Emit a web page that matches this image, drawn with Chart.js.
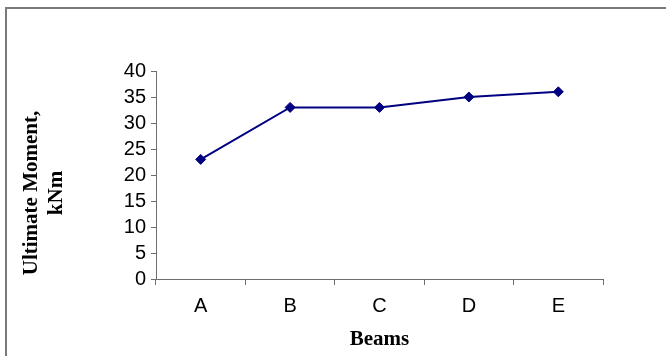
<!DOCTYPE html>
<html>
<head>
<meta charset="utf-8">
<script src="https://cdn.jsdelivr.net/npm/chart.js@4/dist/chart.umd.min.js"></script>
<style>
  html, body { margin: 0; padding: 0; background: #fff; overflow: hidden; }
  canvas { display: block; }
</style>
</head>
<body>
<canvas id="c" width="666" height="356"></canvas>
<script>
const categories = ['A', 'B', 'C', 'D', 'E'];
const momentValues = [23, 33, 33, 35, 36];
const yTitleLines = ['Ultimate Moment,', 'kNm'];
const xTitle = 'Beams';

const framePlugin = {
  id: 'frame',
  beforeDraw(chart) {
    const ctx = chart.ctx;
    ctx.save();
    ctx.fillStyle = '#7a7a7a';
    ctx.fillRect(5, 7, chart.width - 5, 2);
    ctx.fillRect(5, 7, 2, chart.height - 7);
    ctx.restore();
  }
};

const yTitlePlugin = {
  id: 'yTitle',
  afterDraw(chart) {
    const ctx = chart.ctx;
    const area = chart.chartArea;
    ctx.save();
    ctx.translate(32, area.bottom - 86);
    ctx.rotate(-Math.PI / 2);
    ctx.font = 'bold 21px "Liberation Serif", "Times New Roman", serif';
    ctx.fillStyle = '#000';
    ctx.textAlign = 'center';
    ctx.textBaseline = 'middle';
    ctx.fillText(yTitleLines[0], 0, 0);
    ctx.fillText(yTitleLines[1], 0, 25);
    ctx.restore();
  }
};

new Chart(document.getElementById('c'), {
  type: 'line',
  data: {
    labels: categories,
    datasets: [{
      data: momentValues,
      borderColor: '#000080',
      backgroundColor: '#000080',
      borderWidth: 2,
      pointStyle: 'rectRot',
      pointRadius: 5,
      pointBorderWidth: 1,
      tension: 0,
      fill: false
    }]
  },
  options: {
    responsive: false,
    animation: false,
    devicePixelRatio: 1,
    layout: { padding: { top: 71, right: 63, left: 0, bottom: 0 } },
    plugins: { legend: { display: false }, tooltip: { enabled: false } },
    scales: {
      x: {
        offset: true,
        grid: { offset: true, drawOnChartArea: false, drawTicks: true, tickLength: 6, color: '#6e6e6e', lineWidth: 1 },
        border: { color: '#6e6e6e', width: 1 },
        ticks: { color: '#000', padding: 9, font: { family: '"Liberation Sans", Arial, sans-serif', size: 20 } },
        title: { display: true, text: xTitle, color: '#000', padding: { top: 0, bottom: 4 },
                 font: { family: '"Liberation Serif", "Times New Roman", serif', size: 21, weight: 'bold' } },
        afterFit(scale) { scale.height = 77; }
      },
      y: {
        min: 0, max: 40,
        grid: { drawOnChartArea: false, drawTicks: true, tickLength: 5, color: '#6e6e6e', lineWidth: 1 },
        border: { color: '#6e6e6e', width: 1 },
        ticks: { stepSize: 5, autoSkip: false, color: '#000', padding: 5, font: { family: '"Liberation Sans", Arial, sans-serif', size: 20 } },
        afterFit(scale) { scale.width = 156; }
      }
    }
  },
  plugins: [framePlugin, yTitlePlugin]
});
</script>
</body>
</html>
